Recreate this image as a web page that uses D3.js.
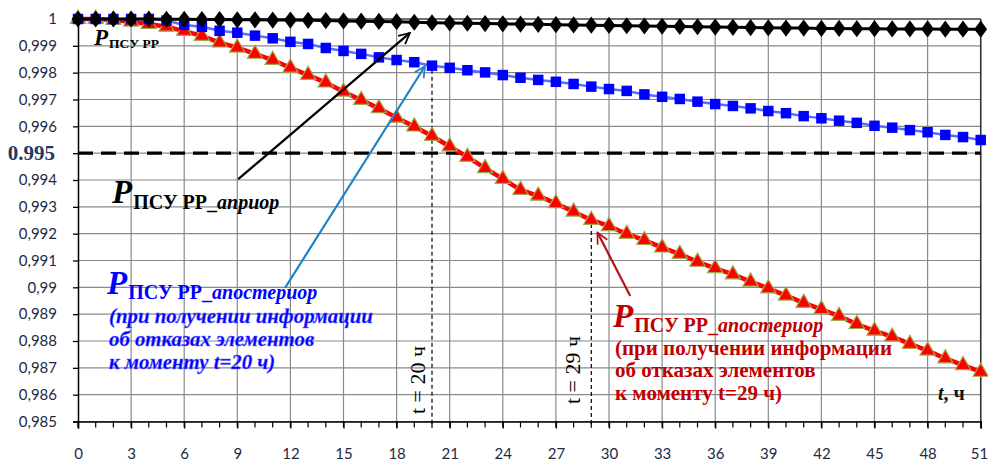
<!DOCTYPE html>
<html>
<head>
<meta charset="utf-8">
<script src="https://cdn.jsdelivr.net/npm/d3@7"></script>
<style>
  html, body { margin: 0; padding: 0; background: #fff; }
  svg { display: block; }
</style>
</head>
<body>
<svg id="chart" width="988" height="463"></svg>
<script>
// Operating time, hours
const hours = d3.range(0, 52);

// A priori reliability of the control system
const pPrior = [
  1, 1, 1, 1, 1, 0.99999, 0.99999, 0.99998, 0.99998, 0.99997,
  0.99997, 0.99996, 0.99996, 0.99995, 0.99994, 0.99993, 0.99992, 0.99991, 0.9999, 0.99988,
  0.99986, 0.99985, 0.99984, 0.99983, 0.99982, 0.99981, 0.9998, 0.99979, 0.99978, 0.99977,
  0.99976, 0.99975, 0.99974, 0.99973, 0.99972, 0.99971, 0.9997, 0.99969, 0.99968, 0.99967,
  0.99966, 0.99966, 0.99965, 0.99965, 0.99964, 0.99964, 0.99963, 0.99963, 0.99963, 0.99962,
  0.99962, 0.99962
];

// A posteriori reliability, failure information received at t = 20 h
const pPost20 = [
  1, 1, 1, 1, 1, 0.99994, 0.99978, 0.99971, 0.99956, 0.99949,
  0.99938, 0.99928, 0.99915, 0.99907, 0.99892, 0.99881, 0.9987, 0.99857, 0.99847, 0.99839,
  0.99826, 0.99818, 0.99809, 0.99801, 0.99791, 0.99781, 0.99773, 0.99766, 0.99758, 0.99748,
  0.99739, 0.99732, 0.99719, 0.9971, 0.99702, 0.99692, 0.99683, 0.99676, 0.99667, 0.99657,
  0.99649, 0.99638, 0.9963, 0.99621, 0.99613, 0.99602, 0.99595, 0.99586, 0.99578, 0.99568,
  0.9956, 0.99549
];

// A posteriori reliability, failure information received at t = 29 h
const pPost29 = [
  1, 1, 0.99996, 0.9999, 0.99981, 0.99971, 0.99955, 0.99937, 0.99912, 0.99893,
  0.9987, 0.99847, 0.99818, 0.99791, 0.99763, 0.99729, 0.99698, 0.99667, 0.99632, 0.99599,
  0.99564, 0.99525, 0.99486, 0.99444, 0.99404, 0.99363, 0.99341, 0.99313, 0.99282, 0.99251,
  0.99228, 0.99199, 0.99176, 0.99148, 0.99124, 0.99095, 0.99071, 0.99048, 0.99021, 0.98996,
  0.98969, 0.98942, 0.98918, 0.98893, 0.98863, 0.98838, 0.98816, 0.98789, 0.98764, 0.98735,
  0.9871, 0.98685
];

const requiredLevel = 0.995;
const xTickValues = d3.range(0, 52, 3);
const xMinorValues = d3.range(0, 52, 1);
const yTickValues = d3.range(0, 16).map(i => +(0.985 + i * 0.001).toFixed(3));
const markTimes = [20, 29];

const svg = d3.select("#chart");
const plotL = 78, plotR = 980.7, plotT = 19, plotB = 421.5;

const x = d3.scaleLinear().domain([0, 51]).range([plotL, plotR]);
const y = d3.scaleLinear().domain([0.985, 1]).range([plotB, plotT]);

const serif = "'Liberation Serif', 'Times New Roman', serif";
const sans = "Lato, 'Open Sans', sans-serif";

// grid
const grid = svg.append("g");
grid.selectAll("line.h").data(yTickValues).join("line")
  .attr("x1", plotL).attr("x2", plotR)
  .attr("y1", d => y(d)).attr("y2", d => y(d))
  .attr("stroke", "#8a8a8a").attr("stroke-width", 1.2);
grid.selectAll("line.v").data(xTickValues.filter(d => d > 0)).join("line")
  .attr("x1", d => x(d)).attr("x2", d => x(d))
  .attr("y1", plotT).attr("y2", plotB)
  .attr("stroke", "#8a8a8a").attr("stroke-width", 1.2);
// frame top / right
svg.append("line").attr("x1", plotL).attr("x2", plotR).attr("y1", plotT).attr("y2", plotT)
  .attr("stroke", "#555").attr("stroke-width", 1.3);
svg.append("line").attr("x1", plotR).attr("x2", plotR).attr("y1", plotT).attr("y2", plotB)
  .attr("stroke", "#333").attr("stroke-width", 1.5);

// y axis
const yAxis = d3.axisLeft(y).tickValues(yTickValues).tickSize(5).tickPadding(16)
  .tickFormat(d => d === 1 ? "1" : String(+d.toFixed(3)).replace(".", ","));
const gy = svg.append("g").attr("transform", `translate(${plotL},0)`).call(yAxis);
gy.select(".domain").attr("stroke", "#000").attr("stroke-width", 1.5);
gy.selectAll(".tick line").attr("stroke", "#000").attr("stroke-width", 1.3);
gy.selectAll(".tick text")
  .attr("font-family", sans).attr("font-size", 15).attr("fill", "#1d2a45");
gy.selectAll(".tick").filter(d => d === requiredLevel).select("text")
  .text("0.995")
  .attr("font-family", serif).attr("font-weight", "bold").attr("font-size", 21)
  .attr("fill", "#1f3864").attr("dx", -2);

// x axis
const xAxis = d3.axisBottom(x).tickValues(xTickValues).tickSize(7).tickPadding(20)
  .tickFormat(d3.format("d"));
const gx = svg.append("g").attr("transform", `translate(0,${plotB})`).call(xAxis);
gx.select(".domain").attr("stroke", "#000").attr("stroke-width", 1.5);
gx.selectAll(".tick line").attr("stroke", "#000").attr("stroke-width", 1.3);
gx.selectAll(".tick text")
  .attr("font-family", sans).attr("font-size", 15).attr("fill", "#1d2a45");
// keep the last label inside the canvas
gx.selectAll(".tick").filter(d => d === 51).select("text")
  .attr("text-anchor", "end").attr("dx", 7);
gx.selectAll("line.minor").data(xMinorValues).join("line")
  .attr("class", "minor")
  .attr("x1", d => x(d)).attr("x2", d => x(d))
  .attr("y1", 0).attr("y2", 6)
  .attr("stroke", "#000").attr("stroke-width", 1.2);

// required reliability level
svg.append("line")
  .attr("x1", plotL).attr("x2", plotR)
  .attr("y1", y(requiredLevel)).attr("y2", y(requiredLevel))
  .attr("stroke", "#000").attr("stroke-width", 3.2)
  .attr("stroke-dasharray", "15,8");

// vertical markers at the information times
const markSeries = { 20: pPost20, 29: pPost29 };
svg.selectAll("line.mark").data(markTimes).join("line")
  .attr("class", "mark")
  .attr("x1", d => x(d)).attr("x2", d => x(d))
  .attr("y1", d => y(markSeries[d][d]) + 4).attr("y2", plotB + 6)
  .attr("stroke", "#000").attr("stroke-width", 1.2)
  .attr("stroke-dasharray", "4,3");
svg.selectAll("text.mark").data(markTimes).join("text")
  .attr("class", "mark")
  .attr("transform", d => d === 20
    ? `translate(${x(d) - 7},380) rotate(-90)`
    : `translate(${x(d) - 11},370) rotate(-90)`)
  .attr("text-anchor", "middle")
  .attr("font-family", serif).attr("font-size", 22).attr("fill", "#000")
  .text(d => `t = ${d} ч`);

const line = d3.line().x((d, i) => x(hours[i])).y(d => y(d));

// a posteriori (t = 29 h)
svg.append("path").datum(pPost29).attr("d", line)
  .attr("fill", "none").attr("stroke", "#ff0000").attr("stroke-width", 4.5);
const tri = d3.symbol().type(d3.symbolTriangle).size(100);
svg.append("g").selectAll("path").data(pPost29).join("path")
  .attr("transform", (d, i) => `translate(${x(hours[i])},${y(d)})`)
  .attr("d", tri)
  .attr("fill", "#ff0000").attr("stroke", "#a3a84a").attr("stroke-width", 1.2);

// a posteriori (t = 20 h)
svg.append("path").datum(pPost20).attr("d", line)
  .attr("fill", "none").attr("stroke", "#5a6cff").attr("stroke-width", 2.5);
const sq = d3.symbol().type(d3.symbolSquare).size(110);
svg.append("g").selectAll("path").data(pPost20).join("path")
  .attr("transform", (d, i) => `translate(${x(hours[i])},${y(d)})`)
  .attr("d", sq).attr("fill", "#0000ff");

// a priori
svg.append("path").datum(pPrior).attr("d", line)
  .attr("fill", "none").attr("stroke", "#000").attr("stroke-width", 3);
const dia = d3.symbol().type(d3.symbolDiamond).size(85);
svg.append("g").selectAll("path").data(pPrior).join("path")
  .attr("transform", (d, i) => `translate(${x(hours[i])},${y(d)}) scale(1.3,1)`)
  .attr("d", dia).attr("fill", "#000");

// annotation arrows
const defs = svg.append("defs");
function arrowHead(id, color) {
  defs.append("marker").attr("id", id)
    .attr("viewBox", "0 0 12 12").attr("refX", 11).attr("refY", 6)
    .attr("markerWidth", 13).attr("markerHeight", 13).attr("markerUnits", "userSpaceOnUse")
    .attr("orient", "auto")
    .append("path").attr("d", "M1,1 L11,6 L1,11")
    .attr("fill", "none").attr("stroke", color).attr("stroke-width", 1.6);
}
arrowHead("ahBlack", "#000");
arrowHead("ahBlue", "#1f82c8");
arrowHead("ahRed", "#b5121b");
function arrow(t0, v0, t1, v1, color, id) {
  svg.append("line")
    .attr("x1", x(t0)).attr("y1", y(v0)).attr("x2", x(t1)).attr("y2", y(v1))
    .attr("stroke", color).attr("stroke-width", 2.2)
    .attr("marker-end", `url(#${id})`);
}
arrow(9.05, 0.99403, 18.75, 0.99948, "#000", "ahBlack");
arrow(11.7, 0.98998, 19.6, 0.99824, "#1f82c8", "ahBlue");
arrow(31.2, 0.98968, 29.35, 0.99204, "#b5121b", "ahRed");

// labels
function label(g, px, py, color, sizeP, sizeSub, shift, subPlain, subItalic) {
  const t = g.append("text").attr("x", px).attr("y", py)
    .attr("font-family", serif).attr("font-weight", "bold").attr("fill", color);
  t.append("tspan").attr("font-style", "italic").attr("font-size", sizeP).text("P");
  t.append("tspan").attr("font-size", sizeSub).attr("dy", shift).attr("dx", 1).text(subPlain);
  if (subItalic) t.append("tspan").attr("font-size", sizeSub).attr("font-style", "italic").text(subItalic);
  return t;
}
const notes = svg.append("g");
label(notes, 94, 45, "#000", 23, 13.5, 3, "ПСУ РР");
label(notes, 112, 203, "#000", 33, 20, 6, "ПСУ РР_", "априор");
label(notes, 107, 294, "#0000ff", 33, 20, 5, "ПСУ РР_", "апостериор");
label(notes, 613, 327, "#c00000", 33, 20, 5, "ПСУ РР_", "апостериор");

const blueLines = ["(при получении информации", "об отказах элементов", "к моменту t=20 ч)"];
notes.append("g").selectAll("text").data(blueLines).join("text")
  .attr("x", 109).attr("y", (d, i) => 323 + i * 23)
  .attr("font-family", serif).attr("font-weight", "bold").attr("font-style", "italic")
  .attr("font-size", 20.8).attr("fill", "#0000ff")
  .attr("stroke", "#6b6bff").attr("stroke-width", 0.4)
  .text(d => d);

const redLines = ["(при получении информации", "об отказах элементов", "к моменту t=29 ч)"];
notes.append("g").selectAll("text").data(redLines).join("text")
  .attr("x", 615).attr("y", (d, i) => 355 + i * 22.3)
  .attr("font-family", serif).attr("font-weight", "bold")
  .attr("font-size", 21).attr("fill", "#c00000")
  .text(d => d);

// axis title
const at = notes.append("text").attr("x", 938).attr("y", 400)
  .attr("font-family", serif).attr("font-weight", "bold").attr("font-size", 20).attr("fill", "#111");
at.append("tspan").attr("font-style", "italic").text("t");
at.append("tspan").text(", ч");
</script>
</body>
</html>
